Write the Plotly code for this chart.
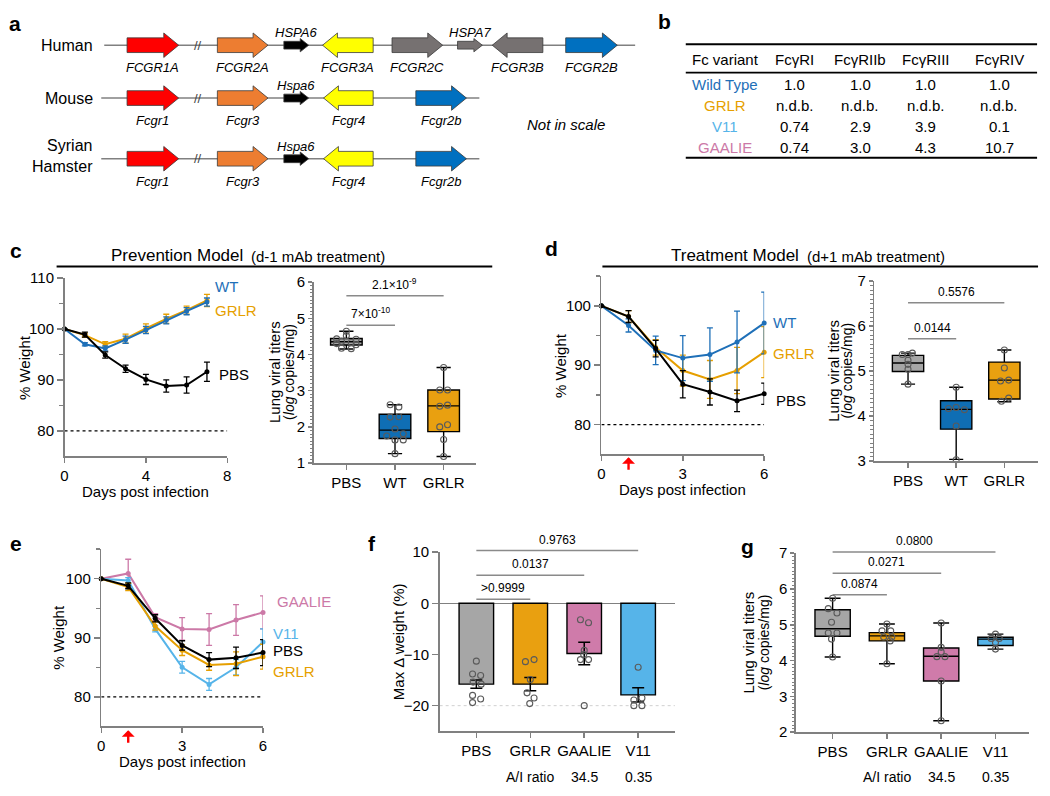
import plotly.graph_objects as go

W, H = 1050, 796
FONT = "Liberation Sans, Arial, Helvetica, sans-serif"
AXC = '#808080'

def px(x):
    return x / W

def py(y):
    return 1 - y / H

# ------------------------------------------------------------------ DATA
# a : Fc receptor loci (schematic units, not in scale)
RED, ORANGE, BLACK, YELLOW, GREY, BLUE = '#FF0000', '#ED7D31', '#000000', '#FFFF00', '#767171', '#0070C0'
species = ['Human', 'Mouse', 'Syrian<br>Hamster']
human_genes = ['FCGR1A', 'FCGR2A', 'HSPA6', 'FCGR3A', 'FCGR2C', 'HSPA7', 'FCGR3B', 'FCGR2B']
human_start = [124, 215, 282, 321, 391, 457, 492, 566]
human_end = [176, 266, 307, 372, 442, 482, 543, 618]
human_strand = [1, 1, 1, -1, 1, 1, -1, 1]
human_colors = [RED, ORANGE, BLACK, YELLOW, GREY, GREY, GREY, BLUE]
human_small = [0, 0, 1, 0, 0, 1, 0, 0]
mouse_genes = ['Fcgr1', 'Fcgr3', 'Hspa6', 'Fcgr4', 'Fcgr2b']
mouse_start = [124, 215, 282, 322, 415]
mouse_end = [176, 266, 307, 372, 466]
mouse_strand = [1, 1, 1, -1, 1]
mouse_colors = [RED, ORANGE, BLACK, YELLOW, BLUE]
mouse_small = [0, 0, 1, 0, 0]
hamster_genes = ['Fcgr1', 'Fcgr3', 'Hspa6', 'Fcgr4', 'Fcgr2b']
hamster_start = [124, 215, 282, 322, 415]
hamster_end = [176, 266, 307, 372, 466]
hamster_strand = [1, 1, 1, -1, 1]
hamster_colors = [RED, ORANGE, BLACK, YELLOW, BLUE]
hamster_small = [0, 0, 1, 0, 0]
locus_start = [101, 98, 98]
locus_end = [636, 479, 479]
break_pos = 195

# b : A/I binding table
table_header = ['Fc variant', 'FcγRI', 'FcγRIIb', 'FcγRIII', 'FcγRIV']
variants = ['Wild Type', 'GRLR', 'V11', 'GAALIE']
variant_colors = ['#1F70B8', '#E69F00', '#56B4E9', '#CC79A7']
ratio_RI = [1.0, None, 0.74, 0.74]
ratio_RIIb = [1.0, None, 2.9, 3.0]
ratio_RIII = [1.0, None, 3.9, 4.3]
ratio_RIV = [1.0, None, 0.1, 10.7]

# c : prevention model
days_c = [0, 1, 2, 3, 4, 5, 6, 7]
c_wt = [100, 97.0, 96.2, 97.9, 99.8, 101.7, 103.5, 105.3]
c_wt_err = [0, 0.3, 0.5, 0.7, 0.7, 0.7, 0.7, 0.8]
c_grlr = [100, 98.8, 97.0, 98.1, 100.1, 102.0, 103.7, 105.6]
c_grlr_err = [0, 0.4, 0.5, 0.9, 0.9, 0.9, 0.8, 1.2]
c_pbs = [100, 98.9, 94.9, 92.2, 90.1, 88.8, 89.0, 91.6]
c_pbs_err = [0, 0.5, 0.6, 0.7, 1.0, 1.2, 1.6, 1.9]
box_groups_c = ['PBS', 'WT', 'GRLR']
c_q1 = [4.26, 1.68, 1.87]
c_med = [4.35, 1.91, 2.58]
c_q3 = [4.44, 2.35, 3.02]
c_lo = [4.15, 1.26, 1.18]
c_hi = [4.64, 2.61, 3.64]
c_pts_pbs = [4.64, 4.52, 4.43, 4.42, 4.36, 4.33, 4.30, 4.27, 4.17, 4.16]
c_pts_wt = [2.61, 2.55, 2.27, 2.28, 1.94, 1.75, 1.81, 1.64, 1.64, 1.26]
c_pts_grlr = [3.64, 3.02, 3.02, 2.57, 2.60, 2.00, 2.06, 1.65, 1.18]
c_jit_pbs = [0, 0, -0.2, 0.2, -0.1, 0.1, -0.2, 0.2, -0.1, 0.1]
c_jit_wt = [-0.1, 0.08, -0.1, 0.08, 0, -0.17, 0.17, 0, 0.17, 0]
c_jit_grlr = [0, -0.08, 0.08, -0.08, 0.08, -0.08, 0.08, 0, 0]
c_sig = [(0, 2, 5.62, '2.1×10<sup>-9</sup>'), (0, 1, 4.81, '7×10<sup>-10</sup>')]

# d : treatment model
days_d = [0, 1, 2, 3, 4, 5, 6]
d_wt = [100, 96.7, 92.5, 91.2, 91.8, 93.9, 97.1]
d_wt_err = [0, 1.1, 2.4, 3.8, 4.5, 5.2, 5.2]
d_grlr = [100, 98.2, 93.0, 89.1, 87.6, 89.1, 92.2]
d_grlr_err = [0, 1.0, 1.3, 2.6, 3.2, 3.9, 4.3]
d_pbs = [100, 98.2, 92.8, 86.8, 85.5, 84.0, 85.2]
d_pbs_err = [0, 1.0, 1.4, 2.3, 2.2, 1.8, 1.8]
d_q1 = [4.99, 3.71, 4.38]
d_med = [5.18, 4.15, 4.80]
d_q3 = [5.35, 4.34, 5.20]
d_lo = [4.71, 3.04, 4.32]
d_hi = [5.40, 4.64, 5.47]
d_pts_pbs = [5.37, 5.37, 5.40, 5.24, 5.15, 5.04, 4.71]
d_pts_wt = [4.64, 4.17, 4.19, 4.14, 3.78, 3.03]
d_pts_grlr = [5.47, 5.07, 4.78, 4.80, 4.40, 4.33]
d_jit_pbs = [-0.12, 0, 0.09, 0, 0, 0, 0]
d_jit_wt = [0, -0.16, 0, 0.17, 0, 0]
d_jit_grlr = [0, 0, -0.08, 0.09, 0.09, -0.06]
d_sig = [(0, 2, 6.52, '0.5576'), (0, 1, 5.72, '0.0144')]

# e : Fc variants weight
days_e = [0, 1, 2, 3, 4, 5, 6]
e_gaalie = [100, 100.9, 93.5, 91.5, 91.4, 93.0, 94.3]
e_gaalie_err = [0, 2.4, 0.6, 1.9, 2.7, 2.6, 2.8]
e_v11 = [100, 99.7, 91.5, 85.0, 82.1, 85.0, 89.3]
e_v11_err = [0, 0.5, 0.5, 1.0, 1.0, 1.3, 2.2]
e_grlr = [100, 98.6, 92.0, 87.9, 85.4, 85.6, 86.8]
e_grlr_err = [0, 0.6, 0.7, 0.9, 0.9, 2.0, 2.1]
e_pbs = [100, 98.8, 93.3, 88.7, 86.3, 86.6, 87.5]
e_pbs_err = [0, 0.5, 0.6, 0.8, 1.2, 1.8, 2.2]

# f : max weight loss
groups_fg = ['PBS', 'GRLR', 'GAALIE', 'V11']
ai_ratio_label = ['', 'A/I ratio', '34.5', '0.35']
f_mean = [-15.8, -15.8, -9.8, -17.9]
f_sem = [0.8, 1.3, 2.2, 1.4]
f_pts = [[-11.3, -13.8, -14.1, -15.4, -15.8, -18.0, -18.7, -19.4],
         [-11.4, -11.0, -14.9, -17.5, -18.5, -19.6],
         [-3.2, -3.8, -9.2, -10.0, -11.0, -11.0, -20.0],
         [-12.5, -18.9, -18.5, -20.0, -20.0]]
f_jit = [[0, -0.07, 0.08, -0.06, 0.09, -0.07, 0.08, -0.07],
         [-0.09, 0.07, 0, -0.06, 0.07, -0.01],
         [-0.07, 0.08, 0, -0.01, -0.07, 0.08, 0],
         [0, -0.08, 0.07, -0.08, 0.07]]
f_sig = [(0, 1, 0.8, '>0.9999'), (0, 2, 5.5, '0.0137'), (0, 3, 10.3, '0.9763')]

# g : lung titers Fc variants
g_q1 = [4.68, 4.55, 3.43, 4.42]
g_med = [4.89, 4.69, 4.12, 4.60]
g_q3 = [5.42, 4.78, 4.35, 4.65]
g_lo = [4.10, 3.91, 2.32, 4.32]
g_hi = [5.74, 5.02, 5.05, 4.74]
g_pts = [[5.74, 5.45, 5.33, 5.07, 4.77, 4.77, 4.60, 4.10],
         [5.02, 4.83, 4.83, 4.66, 4.66, 4.55, 3.91],
         [5.05, 4.37, 4.24, 4.11, 4.11, 3.43, 2.32],
         [4.74, 4.62, 4.62, 4.50, 4.32]]
g_jit = [[0, -0.08, 0.08, -0.02, -0.08, 0.08, -0.02, 0],
         [0, -0.09, 0.07, -0.06, 0.09, 0.06, 0],
         [0, 0, 0, -0.08, 0.07, 0, 0],
         [0, -0.08, 0.07, 0, 0]]
g_sig = [(0, 1, 5.84, '0.0874'), (0, 2, 6.44, '0.0271'), (0, 3, 7.03, '0.0800')]

threshold = 80

# colours
C_WT_LINE = '#1F70B8'
C_GRLR_LINE = '#E69F00'
C_BOX = {'PBS': '#A6A6A6', 'WT': '#0F6EB4', 'GRLR': '#E9A010', 'GAALIE': '#CF7BAA', 'V11': '#56B4E9'}

# ------------------------------------------------------------------ FIGURE
fig = go.Figure()
ann = []
shapes = []

def txt(x, y, text, size=15, color='black', xanchor='center', yanchor='middle', xref='paper', yref='paper', **kw):
    ann.append(dict(x=x, y=y, text=text, xref=xref, yref=yref, showarrow=False,
                    xanchor=xanchor, yanchor=yanchor,
                    font=dict(size=size, color=color, family=FONT), **kw))

# ---------- panel a
def arrow_poly(s, e, strand, yc, small):
    L, hb, hh = (8.5, 4.0, 6.8) if small else (15, 7.5, 12.5)
    if strand > 0:
        xs = [s, e - L, e - L, e, e - L, e - L, s, s]
    else:
        xs = [e, s + L, s + L, s, s + L, s + L, e, e]
    ys = [yc - hb, yc - hb, yc - hh, yc, yc + hh, yc + hb, yc + hb, yc - hb]
    return xs, ys

row_y = [37, 91, 153]
rows = [(human_genes, human_start, human_end, human_strand, human_colors, human_small),
        (mouse_genes, mouse_start, mouse_end, mouse_strand, mouse_colors, mouse_small),
        (hamster_genes, hamster_start, hamster_end, hamster_strand, hamster_colors, hamster_small)]
for r, (names, st, en, sd, cols, sm) in enumerate(rows):
    yc = row_y[r]
    fig.add_trace(go.Scatter(x=[locus_start[r], locus_end[r]], y=[yc, yc], mode='lines',
                             line=dict(color='#808080', width=1.5), xaxis='x', yaxis='y', hoverinfo='skip'))
    for n, s, e, d, c, small in zip(names, st, en, sd, cols, sm):
        xs, ys = arrow_poly(s, e, d, yc, small)
        fig.add_trace(go.Scatter(x=xs, y=ys, mode='lines', fill='toself', fillcolor=c,
                                 line=dict(color='#3a3a3a', width=0.8), xaxis='x', yaxis='y', hoverinfo='skip'))
        if small:
            txt((s + e) / 2, yc - 13, '<i>%s</i>' % n, size=13, xref='x', yref='y')
        else:
            txt((s + e) / 2, yc + 23, '<i>%s</i>' % n, size=13, xref='x', yref='y')
    txt(break_pos, yc, '//', size=13, color='#444', xref='x', yref='y')
    txt(92, yc - (3 if r == 2 else 0), species[r], size=16, xanchor='right', xref='x', yref='y', align='right')
txt(566, 118, '<i>Not in scale</i>', size=15, xref='x', yref='y')

# ---------- panel b table
col_x = [727, 797, 863, 929, 1003]
row_tab = [77, 99, 120, 142]
for cx, h in zip(col_x, table_header):
    txt(px(cx), py(52), h, size=15)
cols_vals = [ratio_RI, ratio_RIIb, ratio_RIII, ratio_RIV]
for i, v in enumerate(variants):
    txt(px(col_x[0]), py(row_tab[i]), v, size=15, color=variant_colors[i])
    for j, cv in enumerate(cols_vals):
        val = cv[i]
        txt(px(col_x[j + 1]), py(row_tab[i]), 'n.d.b.' if val is None else str(val), size=15)
for yy in (36, 65, 152):
    shapes.append(dict(type='line', xref='paper', yref='paper', x0=px(687), x1=px(1041),
                       y0=py(yy), y1=py(yy), line=dict(color='black', width=1.8)))

# ---------- helpers for charts
def line_tr(x, y, err, color, xa, ya):
    return go.Scatter(x=x, y=y, mode='lines+markers', line=dict(color=color, width=2),
                      marker=dict(size=5, color=color),
                      error_y=dict(type='data', array=err, color=color, thickness=1.3, width=3),
                      xaxis=xa, yaxis=ya, cliponaxis=False, hoverinfo='skip')

def thresh_tr(xmax, xa, ya):
    return go.Scatter(x=[0, xmax], y=[threshold, threshold], mode='lines',
                      line=dict(color='black', width=1.3, dash='dot'), xaxis=xa, yaxis=ya, hoverinfo='skip')

def box_tr(i, q1, med, q3, lo, hi, color, xa, ya):
    return go.Box(x=[i], q1=[q1], median=[med], q3=[q3], lowerfence=[lo], upperfence=[hi],
                  fillcolor=color, line=dict(color='black', width=1.4), width=0.65,
                  whiskerwidth=0.45, xaxis=xa, yaxis=ya, hoverinfo='skip', boxpoints=False)

def pts_tr(i, vals, jit, xa, ya):
    return go.Scatter(x=[i + j for j in jit], y=vals, mode='markers',
                      marker=dict(symbol='circle-open', size=6, color='#5a5a5a', line=dict(width=1.1)),
                      xaxis=xa, yaxis=ya, cliponaxis=False, hoverinfo='skip')

def sig(xa, ya, xr, yr, i, j, h, text):
    fx0 = (i - xr[0]) / (xr[1] - xr[0])
    fx1 = (j - xr[0]) / (xr[1] - xr[0])
    fy = (h - yr[0]) / (yr[1] - yr[0])
    shapes.append(dict(type='line', xref=xa + ' domain', yref=ya + ' domain', x0=fx0, x1=fx1,
                       y0=fy, y1=fy, line=dict(color='#8a8a8a', width=1.5)))
    txt((fx0 + fx1) / 2, fy, text, size=12, xref=xa + ' domain', yref=ya + ' domain',
        yanchor='bottom', yshift=2)

# ---------- panel c
fig.add_trace(thresh_tr(8, 'x2', 'y2'))
fig.add_trace(line_tr(days_c, c_grlr, c_grlr_err, C_GRLR_LINE, 'x2', 'y2'))
fig.add_trace(line_tr(days_c, c_wt, c_wt_err, C_WT_LINE, 'x2', 'y2'))
fig.add_trace(line_tr(days_c, c_pbs, c_pbs_err, 'black', 'x2', 'y2'))
txt(px(211), py(284), 'WT', color=C_WT_LINE, xanchor='left')
txt(px(211), py(308), 'GRLR', color=C_GRLR_LINE, xanchor='left')
txt(px(215), py(373), 'PBS', xanchor='left')

c_cols = [C_BOX[g] for g in box_groups_c]
c_pts = [c_pts_pbs, c_pts_wt, c_pts_grlr]
c_jit = [c_jit_pbs, c_jit_wt, c_jit_grlr]
for i in range(3):
    fig.add_trace(box_tr(i, c_q1[i], c_med[i], c_q3[i], c_lo[i], c_hi[i], c_cols[i], 'x3', 'y3'))
    fig.add_trace(pts_tr(i, c_pts[i], c_jit[i], 'x3', 'y3'))
XR3, YR3 = [-0.673, 2.673], [1, 6]
for s in c_sig:
    sig('x3', 'y3', XR3, YR3, *s)

# ---------- panel d
fig.add_trace(thresh_tr(6, 'x4', 'y4'))
fig.add_trace(line_tr(days_d, d_grlr, d_grlr_err, C_GRLR_LINE, 'x4', 'y4'))
fig.add_trace(line_tr(days_d, d_wt, d_wt_err, C_WT_LINE, 'x4', 'y4'))
fig.add_trace(line_tr(days_d, d_pbs, d_pbs_err, 'black', 'x4', 'y4'))
txt(px(773), py(320), 'WT', color=C_WT_LINE, xanchor='left')
txt(px(773), py(352), 'GRLR', color=C_GRLR_LINE, xanchor='left')
txt(px(776), py(400), 'PBS', xanchor='left')

d_pts = [d_pts_pbs, d_pts_wt, d_pts_grlr]
d_jit = [d_jit_pbs, d_jit_wt, d_jit_grlr]
for i in range(3):
    fig.add_trace(box_tr(i, d_q1[i], d_med[i], d_q3[i], d_lo[i], d_hi[i], c_cols[i], 'x5', 'y5'))
    fig.add_trace(pts_tr(i, d_pts[i], d_jit[i], 'x5', 'y5'))
XR5, YR5 = [-0.70, 2.70], [3, 7]
for s in d_sig:
    sig('x5', 'y5', XR5, YR5, *s)

# ---------- panel e
fig.add_trace(thresh_tr(6, 'x6', 'y6'))
fig.add_trace(line_tr(days_e, e_gaalie, e_gaalie_err, '#CC79A7', 'x6', 'y6'))
fig.add_trace(line_tr(days_e, e_v11, e_v11_err, '#56B4E9', 'x6', 'y6'))
fig.add_trace(line_tr(days_e, e_grlr, e_grlr_err, C_GRLR_LINE, 'x6', 'y6'))
fig.add_trace(line_tr(days_e, e_pbs, e_pbs_err, 'black', 'x6', 'y6'))
txt(px(273), py(605), 'GAALIE', color='#CC79A7', xanchor='left')
txt(px(269), py(638), 'V11', color='#56B4E9', xanchor='left')
txt(px(269), py(656), 'PBS', xanchor='left')
txt(px(269), py(677), 'GRLR', color=C_GRLR_LINE, xanchor='left')

# ---------- panel f
fg_cols = [C_BOX[g] for g in groups_fg]
fig.add_trace(go.Bar(x=list(range(4)), y=f_mean, marker=dict(color=fg_cols, line=dict(color='black', width=1.4)),
                     width=0.64, error_y=dict(type='data', array=f_sem, color='black', thickness=1.5, width=6),
                     xaxis='x7', yaxis='y7', hoverinfo='skip'))
for i in range(4):
    fig.add_trace(pts_tr(i, f_pts[i], f_jit[i], 'x7', 'y7'))
XR7, YR7 = [-0.68, 3.68], [-25, 10]
for s in f_sig:
    sig('x7', 'y7', XR7, YR7, *s)
shapes.append(dict(type='line', xref='x7 domain', yref='y7', x0=0, x1=1, y0=-20, y1=-20,
                   line=dict(color='#d0d0d0', width=1, dash='dot'), layer='below'))

# ---------- panel g
for i in range(4):
    fig.add_trace(box_tr(i, g_q1[i], g_med[i], g_q3[i], g_lo[i], g_hi[i], fg_cols[i], 'x8', 'y8'))
    fig.add_trace(pts_tr(i, g_pts[i], g_jit[i], 'x8', 'y8'))
XR8, YR8 = [-0.676, 3.62], [2, 7]
for s in g_sig:
    sig('x8', 'y8', XR8, YR8, *s)

for i in range(1, 4):
    txt(i, py(785), ai_ratio_label[i], size=14, xref='x7')
    txt(i, py(785), ai_ratio_label[i], size=14, xref='x8')

# ---------- titles, labels
txt(px(243), py(252), 'Prevention Model', size=17, xanchor='right')
txt(px(247), py(253), '(d-1 mAb treatment)', size=15, xanchor='left')
txt(px(803), py(252), 'Treatment Model', size=17, xanchor='right')
txt(px(807), py(253), '(d+1 mAb treatment)', size=15, xanchor='left')
shapes.append(dict(type='line', xref='paper', yref='paper', x0=px(53), x1=px(492), y0=py(263), y1=py(263),
                   line=dict(color='black', width=2)))
shapes.append(dict(type='line', xref='paper', yref='paper', x0=px(603), x1=px(1042), y0=py(263), y1=py(263),
                   line=dict(color='black', width=2)))

for (x, y, t) in [(11, 15, 'a'), (666, 13, 'b'), (12, 247, 'c'), (552, 245, 'd'),
                  (12, 546, 'e'), (371, 546, 'f'), (749, 549, 'g')]:
    txt(px(x), py(y), '<b>%s</b>' % t, size=21)

txt(px(20), py(366), '% Weight', textangle=-90)
txt(px(560), py(364), '% Weight', textangle=-90)
txt(px(55), py(642), '% Weight', textangle=-90)
txt(px(143), py(493), 'Days post infection')
txt(px(684), py(491), 'Days post infection')
txt(px(180), py(769), 'Days post infection')
for (x1, x2, y) in [(272, 287, 371), (835, 850, 370), (750, 766, 647)]:
    txt(px(x1), py(y), 'Lung viral titers', textangle=-90)
    txt(px(x2), py(y), '(<i>log</i> copies/mg)', size=14, textangle=-90)
txt(px(397), py(646), 'Max Δ weight (%)', textangle=-90)

# red arrows (mAb given on day 1)
for xa, ytip in [('x4', 458), ('x6', 737)]:
    ann.append(dict(x=1, y=py(ytip), xref=xa, yref='paper', text='', showarrow=True,
                    ax=0, ay=14, arrowhead=1, arrowsize=0.9, arrowwidth=2.4, arrowcolor='#FF0000'))

# ---------- axes
def ax(**kw):
    base = dict(showline=True, linecolor=AXC, linewidth=1.5, ticks='outside', tickcolor=AXC,
                tickwidth=1.5, ticklen=6, showgrid=False, zeroline=False, fixedrange=True,
                tickfont=dict(size=15, color='black', family=FONT))
    base.update(kw)
    return base

minor_w = dict(tickvals=[85, 95, 105], ticklen=4, ticks='outside', tickcolor=AXC, tickwidth=1.5)
minor_log = dict(dtick=0.1, ticklen=2.5, ticks='outside', tickcolor=AXC, tickwidth=1)

layout = dict(
    width=W, height=796, margin=dict(l=0, r=0, t=0, b=0), showlegend=False,
    paper_bgcolor='white', plot_bgcolor='white', font=dict(family=FONT, color='black'),
    xaxis=dict(domain=[0, px(660)], range=[0, 660], visible=False, anchor='y', fixedrange=True),
    yaxis=dict(domain=[py(190), 1], range=[190, 0], visible=False, anchor='x', fixedrange=True),
    xaxis2=ax(domain=[px(61), px(225)], range=[0, 8], tickvals=[0, 4, 8], anchor='y2', ticklen=5),
    yaxis2=ax(domain=[py(457), py(275)], range=[75, 110], tickvals=[80, 90, 100, 110], anchor='x2', minor=minor_w),
    xaxis3=ax(domain=[px(312), px(476)], range=XR3, tickvals=[0, 1, 2], ticktext=box_groups_c, anchor='y3', ticklen=5),
    yaxis3=ax(domain=[py(464), py(279)], range=YR3, dtick=1, anchor='x3', minor=minor_log, ticklen=4),
    xaxis4=ax(domain=[px(602), px(766)], range=[0, 6], tickvals=[0, 3, 6], anchor='y4', ticklen=5),
    yaxis4=ax(domain=[py(455), py(273)], range=[75, 105], tickvals=[80, 90, 100], anchor='x4', minor=minor_w),
    xaxis5=ax(domain=[px(877), px(1042)], range=XR5, tickvals=[0, 1, 2], ticktext=box_groups_c, anchor='y5', ticklen=5),
    yaxis5=ax(domain=[py(462), py(278)], range=YR5, dtick=1, anchor='x5', minor=minor_log, ticklen=4),
    xaxis6=ax(domain=[px(98), px(261)], range=[0, 6], tickvals=[0, 3, 6], anchor='y6', ticklen=5),
    yaxis6=ax(domain=[py(733), py(552)], range=[75, 105], tickvals=[80, 90, 100], anchor='x6', minor=minor_w),
    xaxis7=ax(domain=[px(439), px(676)], range=XR7, tickvals=[0, 1, 2, 3], ticktext=groups_fg, anchor='y7', ticklen=5),
    yaxis7=ax(domain=[py(738), py(555)], range=YR7, tickvals=[-20, -10, 0, 10], anchor='x7',
              zeroline=True, zerolinecolor=AXC, zerolinewidth=1.5),
    xaxis8=ax(domain=[px(798), px(1033)], range=XR8, tickvals=[0, 1, 2, 3], ticktext=groups_fg, anchor='y8', ticklen=5),
    yaxis8=ax(domain=[py(739), py(556)], range=YR8, dtick=1, anchor='x8', minor=minor_log, ticklen=4),
    annotations=ann, shapes=shapes,
)
fig.update_layout(**layout)
fig.write_html('out.html', config={'displayModeBar': False, 'staticPlot': True},
               post_script="document.body.style.margin='0px';document.body.style.overflow='hidden';")
